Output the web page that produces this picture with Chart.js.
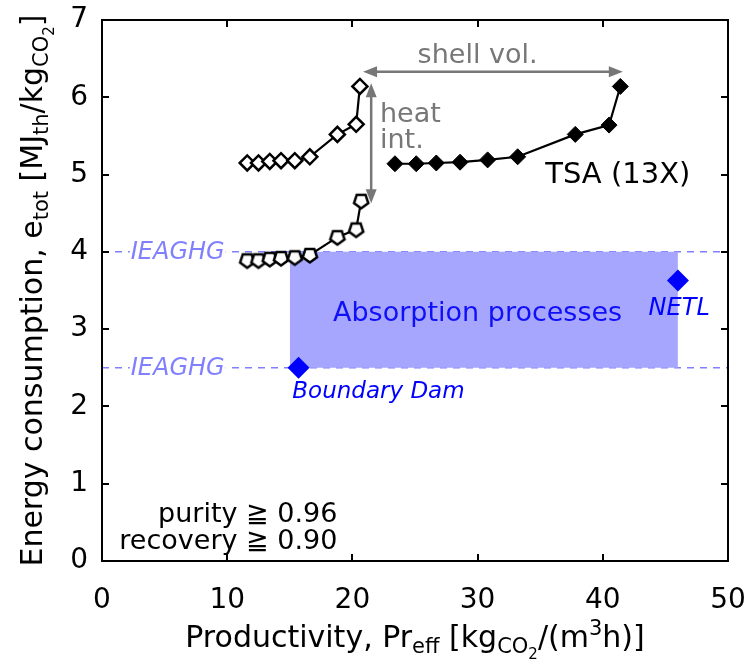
<!DOCTYPE html>
<html>
<head>
<meta charset="utf-8">
<script src="https://cdn.jsdelivr.net/npm/chart.js@4/dist/chart.umd.min.js"></script>
<style>
  html, body { margin: 0; padding: 0; background: #fff; }
  canvas { display: block; }
</style>
</head>
<body>
<canvas id="c" width="753" height="661"></canvas>
<script>
// ---- data -------------------------------------------------------------
// TSA (13X), base configuration (open diamonds)
const tsaBaseX = [11.6, 12.5, 13.4, 14.3, 15.4, 16.6, 18.8, 20.3, 20.6];
const tsaBaseY = [5.15, 5.15, 5.17, 5.18, 5.18, 5.23, 5.52, 5.65, 6.14];
// TSA (13X) with heat integration (open pentagons)
const tsaHeatX = [11.6, 12.5, 13.4, 14.3, 15.4, 16.6, 18.8, 20.3, 20.7];
const tsaHeatY = [3.89, 3.89, 3.91, 3.92, 3.93, 3.96, 4.19, 4.29, 4.66];
// TSA (13X) with shell volume (filled diamonds)
const tsaShellX = [23.4, 25.1, 26.7, 28.6, 30.8, 33.2, 37.8, 40.5, 41.4];
const tsaShellY = [5.14, 5.14, 5.15, 5.16, 5.19, 5.23, 5.52, 5.64, 6.14];
// Absorption processes range
const absorptionX = [15, 46];
const absorptionHigh = 4.0;
const absorptionLow = 2.5;
// IEAGHG reference levels
const ieaghgLevels = [4.0, 2.5];
// Plant data
const boundaryDam = { x: 15.7, y: 2.5 };
const netl = { x: 46.0, y: 3.63 };
// Axis ticks
const xTicks = [0, 10, 20, 30, 40, 50];
const yTicks = [0, 1, 2, 3, 4, 5, 6, 7];

// ---- styling ----------------------------------------------------------
const FONT = '"DejaVu Sans", sans-serif';
const GREY = '#777777';
const BLUE = '#0000ff';
const REF_BLUE = '#8080ff';
const FILL_BLUE = '#a6a6ff';
const TICK = 7;

const pts = (xs, ys) => xs.map((x, i) => ({ x, y: ys[i] }));

// open pentagon marker (flat top, point down)
function pentagonMarker(r) {
  const s = Math.ceil(r * 2 + 5);
  const cv = document.createElement('canvas');
  cv.width = s; cv.height = s;
  const g = cv.getContext('2d');
  g.translate(s / 2, s / 2);
  g.beginPath();
  for (let i = 0; i < 5; i++) {
    const a = Math.PI / 2 + i * 2 * Math.PI / 5;
    const px = r * Math.cos(a), py = r * Math.sin(a);
    if (i === 0) g.moveTo(px, py); else g.lineTo(px, py);
  }
  g.closePath();
  g.fillStyle = '#fff';
  g.fill();
  g.lineWidth = 2.5;
  g.strokeStyle = '#000';
  g.stroke();
  return cv;
}

// ---- rich text (sub / superscripts) ----------------------------------
const STY = {
  n:  { size: 30, dy: 0 },
  s:  { size: 21, dy: 6 },
  ss: { size: 15, dy: 12 },
  p:  { size: 21, dy: -12 }
};
function richWidth(ctx, parts) {
  let w = 0;
  parts.forEach(([t, k]) => { ctx.font = STY[k].size + 'px ' + FONT; w += ctx.measureText(t).width; });
  return w;
}
function drawRich(ctx, parts, x, y, align) {
  const w = richWidth(ctx, parts);
  let cx = align === 'center' ? x - w / 2 : (align === 'right' ? x - w : x);
  ctx.textAlign = 'left';
  ctx.textBaseline = 'alphabetic';
  parts.forEach(([t, k]) => {
    ctx.font = STY[k].size + 'px ' + FONT;
    ctx.fillText(t, cx, y + STY[k].dy);
    cx += ctx.measureText(t).width;
  });
}

const xTitle = [['Productivity, Pr', 'n'], ['eff', 's'], [' [kg', 'n'], ['CO', 's'], ['2', 'ss'],
                ['/(m', 'n'], ['3', 'p'], ['h)]', 'n']];
const yTitle = [['Energy consumption, e', 'n'], ['tot', 's'], [' [MJ', 'n'], ['th', 's'],
                ['/kg', 'n'], ['CO', 's'], ['2', 'ss'], [']', 'n']];

function arrowHead(ctx, x, y, ang, len, half) {
  ctx.beginPath();
  ctx.moveTo(x, y);
  ctx.lineTo(x - len * Math.cos(ang) + half * Math.sin(ang), y - len * Math.sin(ang) - half * Math.cos(ang));
  ctx.lineTo(x - len * Math.cos(ang) - half * Math.sin(ang), y - len * Math.sin(ang) + half * Math.cos(ang));
  ctx.closePath();
  ctx.fill();
}
function doubleArrow(ctx, x1, y1, x2, y2) {
  const ang = Math.atan2(y2 - y1, x2 - x1);
  ctx.beginPath();
  ctx.moveTo(x1 + 6 * Math.cos(ang), y1 + 6 * Math.sin(ang));
  ctx.lineTo(x2 - 6 * Math.cos(ang), y2 - 6 * Math.sin(ang));
  ctx.stroke();
  arrowHead(ctx, x2, y2, ang, 14, 5.5);
  arrowHead(ctx, x1, y1, ang + Math.PI, 14, 5.5);
}

// ---- plugins ----------------------------------------------------------
const frame = {
  id: 'frame',
  afterDatasetsDraw(chart) {
    const { ctx, chartArea: a, scales: { x, y } } = chart;
    ctx.save();
    ctx.strokeStyle = '#000';
    ctx.lineWidth = 2;
    ctx.beginPath();
    xTicks.forEach(v => {
      const px = Math.round(x.getPixelForValue(v));
      ctx.moveTo(px, a.bottom); ctx.lineTo(px, a.bottom - TICK);
      ctx.moveTo(px, a.top); ctx.lineTo(px, a.top + TICK);
    });
    yTicks.forEach(v => {
      const py = Math.round(y.getPixelForValue(v));
      ctx.moveTo(a.left, py); ctx.lineTo(a.left + TICK, py);
      ctx.moveTo(a.right, py); ctx.lineTo(a.right - TICK, py);
    });
    ctx.stroke();
    ctx.strokeRect(a.left, a.top, a.right - a.left, a.bottom - a.top);
    ctx.restore();
  }
};

const notes = {
  id: 'notes',
  afterDatasetsDraw(chart) {
    const { ctx, scales: { x, y } } = chart;
    const X = v => x.getPixelForValue(v), Y = v => y.getPixelForValue(v);
    ctx.save();

    // IEAGHG reference labels
    ctx.font = 'italic 24px ' + FONT;
    ctx.textAlign = 'center';
    ctx.textBaseline = 'middle';
    ieaghgLevels.forEach(lv => {
      const w = ctx.measureText('IEAGHG').width;
      ctx.fillStyle = '#fff';
      ctx.fillRect(X(6.05) - w / 2 - 1, Y(lv) - 4, w + 2, 8);
      ctx.fillStyle = REF_BLUE;
      ctx.fillText('IEAGHG', X(6.05), Y(lv) + 1);
    });

    // plant labels
    ctx.fillStyle = BLUE;
    ctx.font = 'italic 23px ' + FONT;
    ctx.textAlign = 'left';
    ctx.fillText('Boundary Dam', X(15.2), Y(2.19));
    ctx.textAlign = 'center';
    ctx.font = 'italic 24px ' + FONT;
    ctx.fillText('NETL', X(46.1), Y(3.26));

    ctx.font = '27px ' + FONT;
    ctx.fillStyle = '#1010f8';
    ctx.fillText('Absorption processes', X(30.0), Y(3.2));

    // series label
    ctx.font = '29px ' + FONT;
    ctx.fillStyle = '#000';
    ctx.textAlign = 'left';
    ctx.fillText('TSA (13X)', X(35.4), Y(4.99));

    // arrows and their captions
    ctx.strokeStyle = GREY;
    ctx.fillStyle = GREY;
    ctx.lineWidth = 2.5;
    doubleArrow(ctx, X(20.85), Y(6.33), X(41.6), Y(6.33));
    doubleArrow(ctx, X(21.5), Y(6.18), X(21.5), Y(4.63));
    ctx.font = '27px ' + FONT;
    ctx.textBaseline = 'alphabetic';
    ctx.textAlign = 'center';
    ctx.fillText('shell vol.', X(30.0), Y(6.45));
    ctx.textAlign = 'left';
    ctx.fillText('heat', X(22.2), Y(5.68));
    ctx.fillText('int.', X(22.2), Y(5.34));

    // constraints
    ctx.fillStyle = '#000';
    ctx.font = '27px ' + FONT;
    ctx.textAlign = 'right';
    ctx.textBaseline = 'middle';
    ctx.fillText('purity \u2267 0.96', X(18.8), Y(0.59));
    ctx.fillText('recovery \u2267 0.90', X(18.8), Y(0.24));

    // axis titles
    ctx.fillStyle = '#000';
    const a = chart.chartArea;
    drawRich(ctx, xTitle, (a.left + a.right) / 2, 647, 'center');
    ctx.save();
    ctx.translate(42, (a.top + a.bottom) / 2);
    ctx.rotate(-Math.PI / 2);
    drawRich(ctx, yTitle, 0, 0, 'center');
    ctx.restore();

    ctx.restore();
  }
};

// ---- chart ------------------------------------------------------------
const lineSeries = (data, extra) => Object.assign({
  data, showLine: true, borderColor: '#000', borderWidth: 2.2,
  pointBorderColor: '#000', pointBorderWidth: 2.5, tension: 0
}, extra);

new Chart(document.getElementById('c'), {
  type: 'scatter',
  data: {
    datasets: [
      // plants
      { data: [boundaryDam, netl], pointStyle: 'rectRot', pointRadius: 11,
        backgroundColor: BLUE, borderColor: BLUE, pointBorderWidth: 0, order: 0 },
      lineSeries(pts(tsaShellX, tsaShellY), { pointStyle: 'rectRot', pointRadius: 8,
        pointBorderWidth: 1, pointBackgroundColor: '#000', order: 1 }),
      lineSeries(pts(tsaBaseX, tsaBaseY), { pointStyle: 'rectRot', pointRadius: 7.5,
        pointBackgroundColor: '#fff', order: 1 }),
      lineSeries(pts(tsaHeatX, tsaHeatY), { pointStyle: pentagonMarker(7.5), order: 1 }),
      // absorption range (upper edge fills down to the lower edge)
      { data: absorptionX.map(x => ({ x, y: absorptionHigh })), showLine: true, borderWidth: 0,
        borderColor: 'rgba(0,0,0,0)', pointRadius: 0, fill: '+1', backgroundColor: FILL_BLUE, order: 2 },
      { data: absorptionX.map(x => ({ x, y: absorptionLow })), showLine: true, borderWidth: 0,
        borderColor: 'rgba(0,0,0,0)', pointRadius: 0, fill: false, order: 3 },
      // IEAGHG reference lines
      ...ieaghgLevels.map(lv => ({
        data: [{ x: xTicks[0], y: lv }, { x: xTicks[xTicks.length - 1], y: lv }],
        showLine: true, borderColor: REF_BLUE, borderWidth: 1.5, borderDash: [7, 6],
        pointRadius: 0, order: 4
      }))
    ]
  },
  options: {
    responsive: false,
    animation: false,
    events: [],
    devicePixelRatio: 1,
    layout: { padding: { left: 0, right: 25, top: 20, bottom: 0 } },
    plugins: { legend: { display: false }, tooltip: { enabled: false } },
    scales: {
      x: {
        type: 'linear', min: 0, max: 50,
        afterBuildTicks: s => { s.ticks = xTicks.map(value => ({ value })); },
        afterFit: s => { s.height = 100; s.paddingLeft = 0; s.paddingRight = 0; },
        grid: { display: false, drawTicks: false },
        border: { display: false },
        ticks: { color: '#000', font: { family: FONT, size: 28 }, padding: 23, maxRotation: 0 }
      },
      y: {
        type: 'linear', min: 0, max: 7,
        afterBuildTicks: s => { s.ticks = yTicks.map(value => ({ value })); },
        afterFit: s => { s.width = 102; s.paddingTop = 0; s.paddingBottom = 0; },
        grid: { display: false, drawTicks: false },
        border: { display: false },
        ticks: { color: '#000', font: { family: FONT, size: 28 }, padding: 14 }
      }
    }
  },
  plugins: [frame, notes]
});
</script>
</body>
</html>
